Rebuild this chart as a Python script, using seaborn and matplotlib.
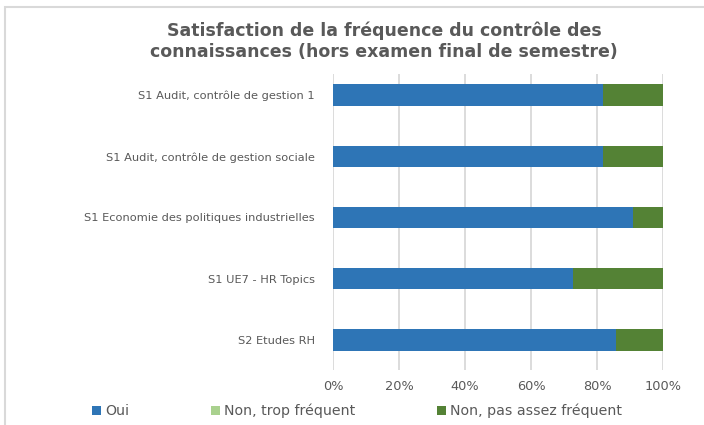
import numpy as np
import pandas as pd
import matplotlib
matplotlib.use("Agg")
import matplotlib.pyplot as plt
from matplotlib.patches import Patch, Rectangle
import seaborn as sns

# data (percent of answers per course)
courses = ["S1 Audit, contrôle de gestion 1",
           "S1 Audit, contrôle de gestion sociale",
           "S1 Economie des politiques industrielles",
           "S1 UE7 - HR Topics",
           "S2 Etudes RH"]
oui = [81.8, 81.8, 90.9, 72.7, 85.7]
trop_frequent = [0, 0, 0, 0, 0]
pas_assez = [18.2, 18.2, 9.1, 27.3, 14.3]

series_names = ["Oui", "Non, trop fréquent", "Non, pas assez fréquent"]
colors = ["#2E75B6", "#A9D18E", "#548235"]
xticks = [0, 20, 40, 60, 80, 100]

df = pd.DataFrame({"cours": courses, "oui": oui, "trop": trop_frequent, "pas_assez": pas_assez})
df["c1"] = df["oui"]
df["c2"] = df["c1"] + df["trop"]
df["c3"] = df["c2"] + df["pas_assez"]

sns.set_style("white")
plt.rcParams["font.family"] = ["DejaVu Sans"]
txt_color = "#595959"

fig = plt.figure(figsize=(7.04, 4.25), dpi=100)
ax = fig.add_axes([333 / 704, 55 / 425, 330 / 704, 296 / 425])

# stacked bars: draw cumulative totals from back to front
for col, c in zip(["c3", "c2", "c1"], colors[::-1]):
    sns.barplot(data=df, x=col, y="cours", order=courses, color=c,
                width=0.35, linewidth=0, saturation=1, ax=ax, zorder=3)

ax.set_xlim(0, 100)
ax.set_ylim(4.49, -0.343)
ax.set_xticks(xticks)
ax.set_xticklabels([f"{t}%" for t in xticks])
ax.set_xlabel("")
ax.set_ylabel("")
for s in ax.spines.values():
    s.set_visible(False)
ax.grid(False)
for t in xticks:
    ax.axvline(t, color="#d9d9d9", lw=1.3, zorder=1)
ax.tick_params(axis="both", length=0, colors=txt_color)
ax.tick_params(axis="y", pad=13, labelsize=8.2)
ax.tick_params(axis="x", pad=7, labelsize=9.3)

fig.text(384 / 704, 1 - 41 / 425,
         "Satisfaction de la fréquence du contrôle des\nconnaissances (hors examen final de semestre)",
         ha="center", va="center", fontsize=12.5, fontweight="bold", color=txt_color,
         linespacing=1.2)

handles = [Patch(facecolor=c, edgecolor="none") for c in colors]
fig.legend(handles, series_names, loc="center left", bbox_to_anchor=(92 / 704, 1 - 411 / 425),
           ncol=3, frameon=False, fontsize=10.2, labelcolor=txt_color,
           handlelength=0.65, handleheight=0.65, handletextpad=0.25,
           columnspacing=5.8, borderaxespad=0, borderpad=0)

# light chart frame (left and top edges visible in the crop)
fig.add_artist(Rectangle((4.5 / 704, -0.1), 1.2, 1 - 6.5 / 425 + 0.1,
                         transform=fig.transFigure, fill=False,
                         edgecolor="#d9d9d9", lw=1.5))

fig.savefig("out.png", dpi=100)
